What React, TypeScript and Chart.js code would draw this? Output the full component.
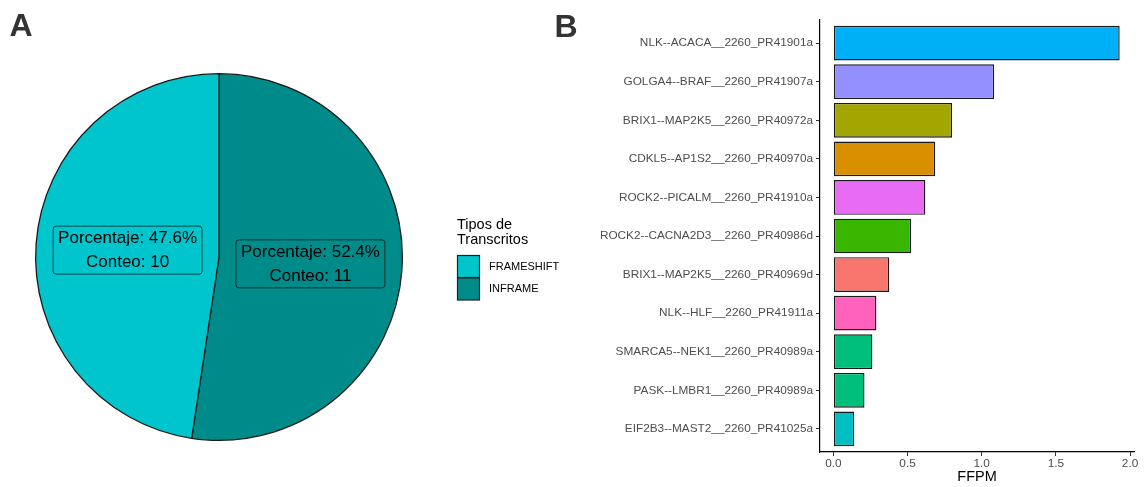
import React, { useEffect, useRef } from 'react';
import { Chart, registerables } from 'chart.js';

Chart.register(...registerables);

// Panel A: transcript types
const tipos = ['FRAMESHIFT', 'INFRAME'];
const conteos = [10, 11];
const tipoColores = ['#00C5CD', '#008B8B'];

// Panel B: fusion transcripts and their FFPM
const fusiones = [
  'NLK--ACACA__2260_PR41901a',
  'GOLGA4--BRAF__2260_PR41907a',
  'BRIX1--MAP2K5__2260_PR40972a',
  'CDKL5--AP1S2__2260_PR40970a',
  'ROCK2--PICALM__2260_PR41910a',
  'ROCK2--CACNA2D3__2260_PR40986d',
  'BRIX1--MAP2K5__2260_PR40969d',
  'NLK--HLF__2260_PR41911a',
  'SMARCA5--NEK1__2260_PR40989a',
  'PASK--LMBR1__2260_PR40989a',
  'EIF2B3--MAST2__2260_PR41025a',
];
const ffpm = [1.93, 1.084, 0.8, 0.687, 0.62, 0.525, 0.377, 0.29, 0.263, 0.21, 0.141];
const fusionColores = [
  '#00B0F6', '#9590FF', '#A3A500', '#D89000', '#E76BF3', '#39B600',
  '#F8766D', '#FF62BC', '#00BF7D', '#00BF7D', '#00BFC4',
];
const ffpmTicks = [0, 0.5, 1, 1.5, 2];

const FONT = "'Liberation Sans', Arial, Helvetica, sans-serif";

function roundRect(ctx: CanvasRenderingContext2D, x: number, y: number, w: number, h: number, r: number) {
  ctx.beginPath();
  ctx.moveTo(x + r, y);
  ctx.lineTo(x + w - r, y);
  ctx.arcTo(x + w, y, x + w, y + r, r);
  ctx.lineTo(x + w, y + h - r);
  ctx.arcTo(x + w, y + h, x + w - r, y + h, r);
  ctx.lineTo(x + r, y + h);
  ctx.arcTo(x, y + h, x, y + h - r, r);
  ctx.lineTo(x, y + r);
  ctx.arcTo(x, y, x + r, y, r);
  ctx.closePath();
}

// Draws the slice labels, the legend and the panel letter of the pie
const pieExtras = {
  id: 'pieExtras',
  afterDraw(chart: any) {
    const ctx: CanvasRenderingContext2D = chart.ctx;
    const meta = chart.getDatasetMeta(0);
    const data: number[] = chart.data.datasets[0].data;
    const colors: string[] = chart.data.datasets[0].backgroundColor;
    const total = data.reduce((a, b) => a + b, 0);
    ctx.save();

    // slice labels
    ctx.font = `17px ${FONT}`;
    ctx.textAlign = 'center';
    ctx.textBaseline = 'middle';
    meta.data.forEach((arc: any, i: number) => {
      const { x, y } = arc.tooltipPosition(false);
      const l1 = `Porcentaje: ${((data[i] / total) * 100).toFixed(1)}%`;
      const l2 = `Conteo: ${data[i]}`;
      const w = Math.max(ctx.measureText(l1).width, ctx.measureText(l2).width) + 10;
      const h = 48;
      roundRect(ctx, x - w / 2, y - h / 2, w, h, 3);
      ctx.fillStyle = colors[i];
      ctx.fill();
      ctx.lineWidth = 1;
      ctx.strokeStyle = 'rgba(0,0,0,0.65)';
      ctx.stroke();
      ctx.fillStyle = '#000';
      ctx.fillText(l1, x, y - 11.5);
      ctx.fillText(l2, x, y + 12.5);
    });

    // legend
    ctx.textAlign = 'left';
    ctx.fillStyle = '#000';
    ctx.font = `14.5px ${FONT}`;
    ctx.fillText('Tipos de', 457, 225);
    ctx.fillText('Transcritos', 457, 240);
    tipos.forEach((t, i) => {
      const ky = 255.5 + i * 22.5;
      ctx.fillStyle = tipoColores[i];
      ctx.fillRect(457.5, ky, 22, 22);
      ctx.strokeStyle = '#222';
      ctx.lineWidth = 1.2;
      ctx.strokeRect(457.5, ky, 22, 22);
      ctx.fillStyle = '#000';
      ctx.font = `11px ${FONT}`;
      ctx.fillText(t, 489, ky + 11);
    });

    // panel letter
    ctx.fillStyle = '#333';
    ctx.font = `bold 32px ${FONT}`;
    ctx.textBaseline = 'alphabetic';
    ctx.fillText('A', 9.5, 36);
    ctx.restore();
  },
};

const panelB = {
  id: 'panelB',
  afterDraw(chart: any) {
    const ctx: CanvasRenderingContext2D = chart.ctx;
    ctx.save();
    ctx.fillStyle = '#333';
    ctx.font = `bold 32px ${FONT}`;
    ctx.textAlign = 'left';
    ctx.textBaseline = 'alphabetic';
    ctx.fillText('B', 14.5, 37);
    ctx.restore();
  },
};

function PieChart() {
  const ref = useRef<HTMLCanvasElement>(null);
  useEffect(() => {
    const order = [1, 0]; // stacked order: clockwise from the top
    const chart = new Chart(ref.current as HTMLCanvasElement, {
      type: 'pie',
      data: {
        labels: order.map((i) => tipos[i]),
        datasets: [
          {
            data: order.map((i) => conteos[i]),
            backgroundColor: order.map((i) => tipoColores[i]),
            borderColor: '#1a1a1a',
            borderWidth: 1.3,
          },
        ],
      },
      options: {
        responsive: false,
        animation: false,
        rotation: 0,
        layout: { padding: { left: 35, top: 73, right: 197, bottom: 46 } },
        plugins: { legend: { display: false }, tooltip: { enabled: false } },
      },
      plugins: [pieExtras],
    });
    return () => chart.destroy();
  }, []);
  return (
    <canvas
      ref={ref}
      width={600}
      height={487}
      style={{ position: 'absolute', left: 0, top: 0, width: 600, height: 487 }}
    />
  );
}

function BarChart() {
  const ref = useRef<HTMLCanvasElement>(null);
  useEffect(() => {
    const chart = new Chart(ref.current as HTMLCanvasElement, {
      type: 'bar',
      data: {
        datasets: [
          {
            data: ffpm.map((v, i) => ({ x: v, y: i })),
            backgroundColor: fusionColores,
            borderColor: '#1a1a1a',
            borderWidth: 1.4,
            borderSkipped: false,
            barPercentage: 1,
            categoryPercentage: 0.9,
          },
        ],
      },
      options: {
        responsive: false,
        animation: false,
        indexAxis: 'y',
        layout: { padding: { left: 0, top: 20, right: 11, bottom: 0 } },
        plugins: { legend: { display: false }, tooltip: { enabled: false } },
        scales: {
          y: {
            type: 'linear',
            min: -0.6,
            max: 10.6,
            reverse: true,
            offset: false,
            afterBuildTicks: (scale: any) => {
              scale.ticks = fusiones.map((_, i) => ({ value: i }));
            },
            afterFit: (scale: any) => {
              scale.width = 280;
            },
            ticks: {
              autoSkip: false,
              padding: 3,
              color: '#4D4D4D',
              font: { family: FONT, size: 11.8 },
              callback: (v: any) => fusiones[v] ?? '',
            },
            grid: {
              display: true,
              offset: false,
              drawOnChartArea: false,
              drawTicks: true,
              tickLength: 4,
              color: '#333',
              lineWidth: 1,
            },
            border: { display: true, color: '#000', width: 1.2 },
          },
          x: {
            type: 'linear',
            min: -0.09,
            max: 2.0265,
            afterBuildTicks: (scale: any) => {
              scale.ticks = ffpmTicks.map((v) => ({ value: v }));
            },
            afterFit: (scale: any) => {
              scale.height = 35;
            },
            ticks: {
              padding: 1,
              color: '#4D4D4D',
              font: { family: FONT, size: 11.8 },
              callback: (v: any) => Number(v).toFixed(1),
            },
            grid: {
              display: true,
              drawOnChartArea: false,
              drawTicks: true,
              tickLength: 4,
              color: '#333',
              lineWidth: 1,
            },
            border: { display: true, color: '#000', width: 1.2 },
            title: {
              display: true,
              text: 'FFPM',
              color: '#000',
              font: { family: FONT, size: 14.5 },
              padding: { top: 0, bottom: 1 },
            },
          },
        },
      },
      plugins: [panelB],
    });
    return () => chart.destroy();
  }, []);
  return (
    <canvas
      ref={ref}
      width={605}
      height={487}
      style={{ position: 'absolute', left: 540, top: 0, width: 605, height: 487 }}
    />
  );
}

export default function App() {
  return (
    <div
      style={{
        position: 'absolute',
        left: 0,
        top: 0,
        width: 1145,
        height: 487,
        background: '#fff',
        overflow: 'hidden',
      }}
    >
      <PieChart />
      <BarChart />
    </div>
  );
}
